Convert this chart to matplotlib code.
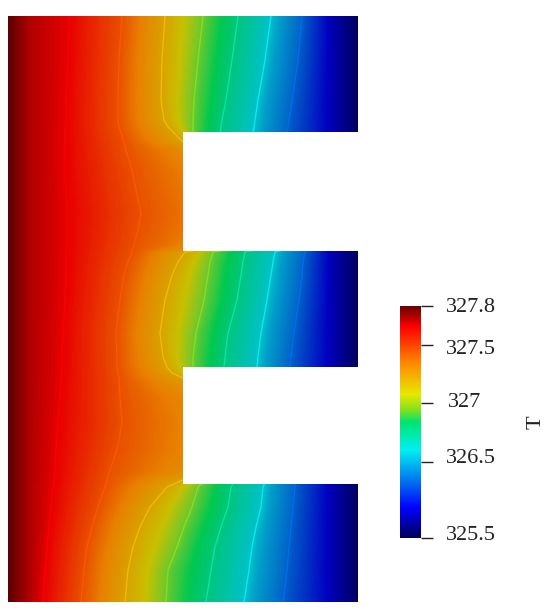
import numpy as np
import matplotlib
matplotlib.use('Agg')
import matplotlib.pyplot as plt
from matplotlib.cm import ScalarMappable
from matplotlib.colors import FuncNorm, LinearSegmentedColormap
from matplotlib.patches import Polygon

W, H = 550, 612

# E shaped domain, picture coordinates
outline_x = [8, 358, 358, 183, 183, 358, 358, 183, 183, 358, 358, 8]
outline_y = [16, 16, 132, 132, 251, 251, 367, 367, 484, 484, 602, 602]

# colour bar
cbar_ticks = [325.5, 326.5, 327, 327.5, 327.8]
cbar_tick_labels = ['325.5', '326.5', '327', '327.5', '327.8']
cbar_frac = [0, 0.328, 0.582, 0.832, 1]  # ticks are not evenly spaced
cbar_label_dy = [3, 3, 0, -5, -2]
cbar_label_dx = [0, 0, 2, 0, 0]

# colormap stops, bar is brighter than the field
stops = [0, 0.13, 0.25, 0.38, 0.5, 0.55, 0.62, 0.755, 0.91, 1]
bar_colors = ['#00005a', '#0000ff', '#0078f0', '#00f0f0', '#00e470', '#80e020',
              '#e8e800', '#ff8800', '#ff0000', '#6a0000']
field_colors = ['#00005e', '#0000c0', '#0068c8', '#00c0c8', '#00c850', '#68c830',
                '#c8c000', '#e88000', '#e80000', '#5a0000']

# isotherms: temperature and x position where each crosses the rows in row_y
# (inside the notches the positions are out of sight, they only steer the field)
iso_levels = [327.64, 327.46, 327.2, 326.94, 326.75, 326.6, 326.23]
row_y = [16, 60, 100, 120, 127, 133, 142, 150, 170, 190, 213, 230, 245, 252, 262, 275, 300,
         333, 357, 367, 373, 378, 397, 423, 450, 470, 480, 487, 507, 527, 547, 570, 602]
iso_x = [
    [69, 122, 165, 203, 238, 271, 302],
    [68, 119, 162, 198, 232, 265, 298],
    [66, 118, 161, 194, 226, 258, 292],
    [66, 118, 164, 193, 222, 255, 289],
    [65, 119, 168, 193, 221, 254, 288],
    [65, 121, 174, 193, 220, 253, 287],
    [65, 124, 183, 205, 225, 255, 288],
    [65, 126, 215, 235, 255, 275, 295],
    [65, 132, 250, 265, 280, 295, 305],
    [66, 136, 265, 280, 295, 310, 320],
    [67, 141, 275, 290, 305, 315, 325],
    [67, 138, 265, 285, 300, 310, 320],
    [67, 134, 235, 255, 280, 300, 315],
    [66, 132, 185, 213, 245, 275, 305],
    [66, 128, 178, 210, 243, 273, 303],
    [66, 124, 172, 208, 241, 271, 302],
    [65, 120, 165, 204, 237, 267, 299],
    [63, 116, 160, 196, 228, 261, 294],
    [62, 117, 163, 193, 225, 258, 291],
    [62, 117, 167, 193, 224, 257, 290],
    [62, 118, 172, 195, 224, 257, 290],
    [61, 119, 183, 205, 228, 258, 290],
    [60, 120, 230, 250, 270, 290, 310],
    [58, 122, 250, 265, 280, 295, 310],
    [56, 117, 250, 265, 280, 295, 310],
    [55, 110, 225, 245, 260, 280, 300],
    [54, 107, 183, 205, 235, 266, 296],
    [53, 105, 167, 198, 231, 263, 295],
    [51, 98, 150, 192, 228, 261, 293],
    [49, 92, 140, 184, 221, 256, 291],
    [47, 87, 133, 177, 215, 252, 289],
    [45, 84, 128, 168, 211, 249, 287],
    [43, 81, 125, 166, 206, 244, 283],
]

# temperature at the fixed columns left and right of the isotherms
left_x = [8, 30]
left_T = [327.8, 327.7]
right_x = [330, 358]
right_T = [325.87, 325.5]

iso_x = np.array(iso_x, dtype=float)
row_y = np.array(row_y, dtype=float)
n_rows = len(row_y)

X = np.hstack([np.tile(left_x, (n_rows, 1)), iso_x, np.tile(right_x, (n_rows, 1))])
Y = np.tile(row_y[:, None], (1, X.shape[1]))
T = np.tile(left_T + iso_levels + right_T, (n_rows, 1))

norm = FuncNorm((lambda v: np.interp(v, cbar_ticks, cbar_frac),
                 lambda f: np.interp(f, cbar_frac, cbar_ticks)),
                vmin=cbar_ticks[0], vmax=cbar_ticks[-1])
bar_cmap = LinearSegmentedColormap.from_list('bar', list(zip(stops, bar_colors)), N=512)
field_cmap = LinearSegmentedColormap.from_list('field', list(zip(stops, field_colors)), N=512)

fig = plt.figure(figsize=(W / 100, H / 100), dpi=100)
ax = fig.add_axes([0, 0, 1, 1])
ax.set_xlim(0, W)
ax.set_ylim(H, 0)
ax.axis('off')

domain = Polygon(np.column_stack([outline_x, outline_y]), closed=True, transform=ax.transData,
                 facecolor='none', edgecolor='none')
ax.add_patch(domain)

cs = ax.contourf(X, Y, T, levels=np.linspace(325.5, 327.8, 300), cmap=field_cmap, norm=norm)
cs.set_clip_path(domain)

for i, level in enumerate(iso_levels):
    line, = ax.plot(iso_x[:, i], row_y, color=bar_cmap(norm(level)), lw=1.0, solid_joinstyle='round')
    line.set_clip_path(domain)

# colour bar with its uneven tick spacing
cax = fig.add_axes([400 / W, 1 - 538 / H, 21 / W, 232 / H])
cb = fig.colorbar(ScalarMappable(norm=norm, cmap=bar_cmap), cax=cax, ticks=cbar_ticks)
cb.outline.set_visible(False)
cb.minorticks_off()
cb.ax.tick_params(length=8.5, width=1, color='#222222', labelright=False)
for value, text, dx, dy in zip(cbar_ticks, cbar_tick_labels, cbar_label_dx, cbar_label_dy):
    cax.annotate(text, (1, value), xycoords=('axes fraction', 'data'),
                 xytext=(18 + dx * 0.72, dy * 0.72), textcoords='offset points',
                 va='center', ha='left', fontsize=16, family='Liberation Serif', color='#222222')

ax.text(536, 422, 'T', rotation=90, ha='center', va='center', fontsize=16,
        family='Liberation Serif', color='#222222')

fig.savefig('out.png', dpi=100)
